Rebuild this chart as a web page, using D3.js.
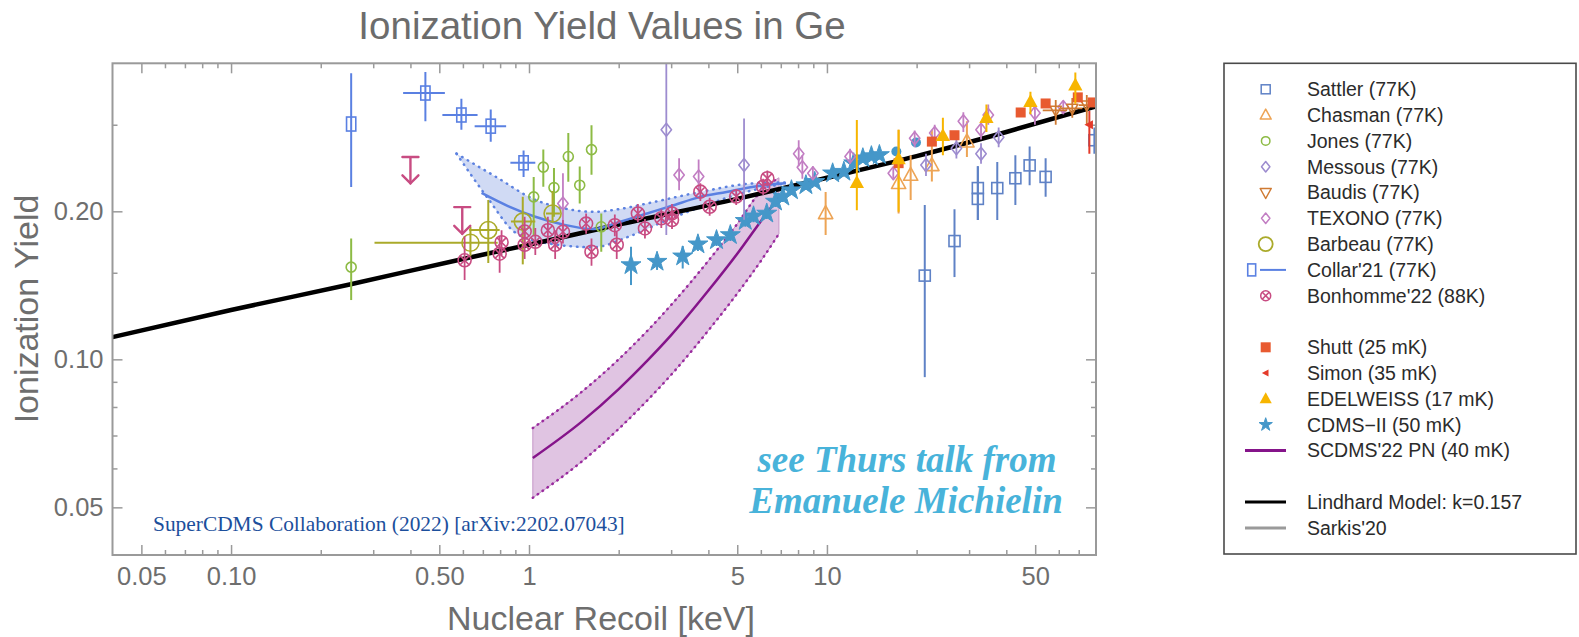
<!DOCTYPE html>
<html>
<head>
<meta charset="utf-8">
<script src="https://cdn.jsdelivr.net/npm/d3@7"></script>
<style>
  html, body { margin: 0; padding: 0; background: #ffffff; }
  svg { display: block; }
</style>
</head>
<body>
<svg id="chart" width="1579" height="637"></svg>
<script>
// ---------------- axis ticks ----------------
const xMajorTicks  = [0.05, 0.1, 0.5, 1, 5, 10, 50];
const xMajorLabels = ["0.05", "0.10", "0.50", "1", "5", "10", "50"];
const xMinorTicks  = [0.06, 0.07, 0.08, 0.09, 0.2, 0.3, 0.4, 0.6, 0.7, 0.8, 0.9,
                      2, 3, 4, 6, 7, 8, 9, 20, 30, 40, 60, 70];
const yMajorTicks  = [0.05, 0.1, 0.2];
const yMajorLabels = ["0.05", "0.10", "0.20"];
const yMinorTicks  = [0.06, 0.07, 0.08, 0.09, 0.15, 0.3];

// ---------------- measurements ----------------
// rows: [E (keV), yield, yield low, yield high, E low, E high]
const sattler = [
  [21.3, 0.148, 0.092, 0.206],
  [26.8, 0.174, 0.147, 0.202],
  [32.1, 0.223, 0.192, 0.247],
  [32.1, 0.212, 0.192, 0.247],
  [37.3, 0.223, 0.192, 0.252],
  [42.9, 0.2335, 0.206, 0.260],
  [47.9, 0.248, 0.226, 0.271],
  [54.2, 0.235, 0.214, 0.2565],
  [79.0, 0.279, 0.262, 0.296]
];
const chasman = [
  [9.9, 0.198, 0.179, 0.219],
  [17.4, 0.228, 0.198, 0.293],
  [19.1, 0.237, 0.211, 0.260],
  [22.5, 0.248, 0.230, 0.293],
  [29.5, 0.277, 0.258, 0.305]
];
const jones = [
  [0.253, 0.154, 0.132, 0.176],
  [1.037, 0.214, 0.178, 0.235],
  [1.117, 0.246, 0.2245, 0.267],
  [1.213, 0.2235, 0.195, 0.245],
  [1.355, 0.2585, 0.2296, 0.2887],
  [1.48, 0.226, 0.2075, 0.2466],
  [1.621, 0.267, 0.2374, 0.2993],
  [1.748, 0.186, 0.1655, 0.198]
];
const messous = [
  [2.89, 0.293, 0.179, 0.45],
  [5.27, 0.2484, 0.1923, 0.309],
  [21.5, 0.2484, 0.236, 0.262],
  [27.2, 0.2686, 0.256, 0.282],
  [32.9, 0.2618, 0.250, 0.275],
  [37.7, 0.2828, 0.270, 0.296]
];
const baudis = [
  [58.6, 0.321, 0.300, 0.337, 53, 64],
  [66.6, 0.324, 0.310, 0.340, 61, 72],
  [74.5, 0.329, 0.300, 0.345, 70, 79]
];
const texono = [
  [1.3, 0.2075, 0.179, 0.239],
  [3.19, 0.2371, 0.2208, 0.2565],
  [3.71, 0.2354, 0.219, 0.255],
  [8.04, 0.2618, 0.247, 0.279],
  [8.27, 0.2457, 0.233, 0.260],
  [8.97, 0.239, 0.232, 0.247],
  [11.96, 0.2585, 0.250, 0.268],
  [16.7, 0.239, 0.233, 0.246],
  [19.7, 0.2815, 0.270, 0.292],
  [23.0, 0.2885, 0.275, 0.300],
  [28.7, 0.305, 0.290, 0.318],
  [32.9, 0.293, 0.280, 0.305],
  [34.8, 0.314, 0.300, 0.330],
  [49.9, 0.317, 0.300, 0.330],
  [62.1, 0.326, 0.315, 0.335]
];
const barbeau = [
  [0.636, 0.1726, 0.162, 0.186, 0.303, 0.785],
  [0.730, 0.1832, 0.157, 0.211, 0.630, 0.797],
  [0.953, 0.1906, 0.156, 0.214, 0.870, 1.050],
  [1.200, 0.198, 0.190, 0.220, 1.140, 1.270]
];
const collar = [
  [0.253, 0.301, 0.224, 0.382, null, null],
  [0.449, 0.348, 0.305, 0.384, 0.378, 0.522],
  [0.593, 0.314, 0.293, 0.339, 0.512, 0.672],
  [0.744, 0.298, 0.277, 0.322, 0.657, 0.838],
  [0.959, 0.251, 0.235, 0.266, 0.866, 1.050]
];
// Collar'21 fitted curve and its band: [E, yield]
const collarCurve = [[0.693, 0.218], [0.85, 0.205], [1.05, 0.195], [1.3, 0.188], [1.644, 0.184],
  [2.0, 0.190], [2.49, 0.198], [3.0, 0.205], [3.76, 0.214], [4.6, 0.219], [5.68, 0.2245], [7.29, 0.228]];
const collarBandHi = [[0.571, 0.262], [0.775, 0.235], [1.05, 0.211], [1.3, 0.203], [1.644, 0.1995],
  [2.0, 0.202], [2.49, 0.2075], [3.76, 0.219], [5.68, 0.228], [7.29, 0.229]];
const collarBandLo = [[0.571, 0.262], [0.734, 0.211], [0.889, 0.182], [1.086, 0.1734], [1.644, 0.169],
  [2.16, 0.1776], [2.8, 0.190], [3.76, 0.204], [5.68, 0.221], [7.29, 0.228]];
const bonhomme = [
  [0.608, 0.159, 0.145, 0.178],
  [0.797, 0.164, 0.150, 0.178],
  [0.809, 0.173, 0.163, 0.183],
  [0.967, 0.182, 0.170, 0.195],
  [0.967, 0.171, 0.160, 0.185],
  [1.05, 0.1734, 0.163, 0.185],
  [1.157, 0.183, 0.172, 0.195],
  [1.224, 0.171, 0.160, 0.183],
  [1.3, 0.1817, 0.172, 0.192],
  [1.555, 0.1888, 0.180, 0.198],
  [1.621, 0.1655, 0.155, 0.176],
  [1.941, 0.1874, 0.178, 0.197],
  [1.97, 0.171, 0.160, 0.182],
  [2.32, 0.198, 0.190, 0.207],
  [2.45, 0.1846, 0.176, 0.193],
  [2.78, 0.1936, 0.185, 0.202],
  [3.02, 0.198, 0.190, 0.207],
  [3.02, 0.192, 0.184, 0.200],
  [3.76, 0.2193, 0.210, 0.228],
  [4.04, 0.2043, 0.196, 0.213],
  [4.96, 0.2143, 0.206, 0.222],
  [6.11, 0.2245, 0.216, 0.233],
  [6.31, 0.2335, 0.225, 0.242]
];
// upper limits: [E, limit, arrow tip]
const bonhommeLimits = [[0.40, 0.258, 0.228], [0.597, 0.204, 0.180]];
const shutt = [[17.4, 0.2506], [22.5, 0.2772], [26.8, 0.2856], [44.7, 0.3177], [54.2, 0.3314], [69.5, 0.341], [78.0, 0.333]];
const simon = [[76.0, 0.300, 0.262, 0.320]];
const edelweiss = [
  [12.6, 0.2287, 0.2011, 0.3068],
  [17.4, 0.2555, 0.1995, 0.293],
  [24.5, 0.2849, 0.260, 0.310],
  [34.3, 0.310, 0.290, 0.330],
  [48.2, 0.334, 0.315, 0.350],
  [68.2, 0.361, 0.331, 0.383]
];
const cdms = [
  [2.2, 0.1555, 0.1416, 0.1694], [2.69, 0.158, 0.152, 0.164], [3.28, 0.162, 0.153, 0.170],
  [3.69, 0.1714, 0.166, 0.177], [4.26, 0.1748, 0.170, 0.180], [4.74, 0.179, 0.174, 0.184],
  [5.32, 0.1913, 0.186, 0.197], [5.67, 0.1954, 0.190, 0.201], [6.28, 0.198, 0.193, 0.203],
  [6.72, 0.2094, 0.204, 0.215], [7.11, 0.2143, 0.209, 0.220], [7.6, 0.2208, 0.216, 0.226],
  [8.5, 0.2261, 0.221, 0.231], [9.1, 0.2296, 0.225, 0.234], [10.45, 0.239, 0.234, 0.244],
  [11.4, 0.2408, 0.236, 0.246], [12.3, 0.2506, 0.245, 0.256], [13.2, 0.2565, 0.251, 0.262],
  [14.1, 0.259, 0.254, 0.264], [15.0, 0.2604, 0.255, 0.266]
];
const cdmsCircles = [[17.1, 0.2646], [19.9, 0.2761]];
// SuperCDMS 2022 photo-neutron result
const pnE   = [1.03, 1.5, 2, 2.5, 3, 4, 5, 6, 6.9];
const pnMid = [0.063, 0.0746, 0.087, 0.0995, 0.112, 0.138, 0.164, 0.191, 0.214];
const pnLo  = [0.0523, 0.0619, 0.0722, 0.0826, 0.093, 0.1145, 0.1361, 0.1585, 0.180];
const pnHi  = [0.0725, 0.0858, 0.100, 0.1144, 0.129, 0.1587, 0.1886, 0.2197, 0.234];
// Lindhard model, k = 0.157
const lindhard = [[0.04, 0.111], [0.1, 0.126], [0.25, 0.142], [0.6, 0.160], [1, 0.171], [2, 0.188],
  [5, 0.212], [10, 0.234], [20, 0.259], [40, 0.290], [80, 0.327]];

// ---------------- legend ----------------
const legendLabels = ["Sattler (77K)", "Chasman (77K)", "Jones (77K)", "Messous (77K)", "Baudis (77K)",
  "TEXONO (77K)", "Barbeau (77K)", "Collar'21 (77K)", "Bonhomme'22 (88K)",
  "Shutt (25 mK)", "Simon (35 mK)", "EDELWEISS (17 mK)", "CDMS\u2212II (50 mK)", "SCDMS'22 PN (40 mK)",
  "Lindhard Model: k=0.157", "Sarkis'20"];
const legendRows = [0, 1, 2, 3, 4, 5, 6, 7, 8, 10, 11, 12, 13, 14, 16, 17];

// ---------------- colours ----------------
const C = {
  sattler: "#5f82c6", chasman: "#eda455", jones: "#8dbb45", messous: "#9d8ccf", baudis: "#cf7a32",
  texono: "#c27ec3", barbeau: "#aaaa2a", collar: "#5a80e2", bonhomme: "#c84c82", shutt: "#e85a30",
  simon: "#e43a2a", edelweiss: "#f7b500", cdms: "#4597c9", pn: "#85148a", lindhard: "#000000", sarkis: "#9a9a9a"
};

// ---------------- layout ----------------
const svg = d3.select("#chart");
const P = { left: 112.5, right: 1096, top: 63.3, bottom: 555 };
const x = d3.scaleLog().domain([0.04, 80]).range([P.left, P.right]);
const y = d3.scaleLog().domain([0.04, 0.4]).range([P.bottom, P.top]);
const SANS = "'Liberation Sans', Arial, Helvetica, sans-serif";
const SERIF = "'Liberation Serif', 'Times New Roman', serif";

svg.append("defs").append("clipPath").attr("id", "plotClip")
  .append("rect").attr("x", P.left).attr("y", P.top)
  .attr("width", P.right - P.left).attr("height", P.bottom - P.top);

// title
svg.append("text").attr("x", 602).attr("y", 39).attr("text-anchor", "middle")
  .style("font-family", SANS).style("font-size", "38.5px").style("fill", "#6c6c6c")
  .text("Ionization Yield Values in Ge");

// frame ticks (inward on all four sides)
function tickLayer(axis, tx, ty) {
  const g = svg.append("g").attr("transform", `translate(${tx},${ty})`).call(axis);
  g.select(".domain").remove();
  g.selectAll(".tick line").attr("stroke", "#9a9a9a").attr("stroke-width", 1.5);
  return g;
}
tickLayer(d3.axisBottom(x).tickValues(xMinorTicks).tickSize(-5).tickFormat(""), 0, P.bottom);
tickLayer(d3.axisTop(x).tickValues(xMinorTicks).tickSize(-5).tickFormat(""), 0, P.top);
tickLayer(d3.axisTop(x).tickValues(xMajorTicks).tickSize(-10).tickFormat(""), 0, P.top);
tickLayer(d3.axisLeft(y).tickValues(yMinorTicks).tickSize(-5).tickFormat(""), P.left, 0);
tickLayer(d3.axisRight(y).tickValues(yMinorTicks).tickSize(-5).tickFormat(""), P.right, 0);
tickLayer(d3.axisRight(y).tickValues(yMajorTicks).tickSize(-10).tickFormat(""), P.right, 0);

const xAx = tickLayer(d3.axisBottom(x).tickValues(xMajorTicks).tickSize(-10).tickPadding(12)
  .tickFormat((d, i) => xMajorLabels[i]), 0, P.bottom);
xAx.selectAll("text").style("font-family", SANS).style("font-size", "25.5px").style("fill", "#6e6e6e");

const yAx = tickLayer(d3.axisLeft(y).tickValues(yMajorTicks).tickSize(-10).tickPadding(9)
  .tickFormat((d, i) => yMajorLabels[i]), P.left, 0);
yAx.selectAll("text").style("font-family", SANS).style("font-size", "25.5px").style("fill", "#6e6e6e");

// axis titles
svg.append("text").attr("x", 601).attr("y", 630).attr("text-anchor", "middle")
  .style("font-family", SANS).style("font-size", "34px").style("fill", "#6e6e6e")
  .text("Nuclear Recoil [keV]");
svg.append("text").attr("transform", "translate(37.5,309) rotate(-90)").attr("text-anchor", "middle")
  .style("font-family", SANS).style("font-size", "34px").style("fill", "#6e6e6e")
  .text("Ionization Yield");

// ---------------- plot body ----------------
const body = svg.append("g").attr("clip-path", "url(#plotClip)");
const smoothGen = d3.line().x(d => x(d[0])).y(d => y(d[1])).curve(d3.curveMonotoneX);

// SCDMS'22 PN band
const pnRows = pnE.map((e, i) => ({ e, m: pnMid[i], lo: pnLo[i], hi: pnHi[i] }));
body.append("path").datum(pnRows)
  .attr("d", d3.area().x(d => x(d.e)).y0(d => y(d.lo)).y1(d => y(d.hi)).curve(d3.curveMonotoneX))
  .attr("fill", "#d6b0d8").attr("fill-opacity", 0.75).attr("stroke", "#c596c8").attr("stroke-width", 1);
[pnLo, pnHi].forEach(arr => {
  body.append("path").datum(pnE.map((e, i) => [e, arr[i]])).attr("d", smoothGen)
    .attr("fill", "none").attr("stroke", "#9a2a9e").attr("stroke-width", 2.5)
    .attr("stroke-linecap", "round").attr("stroke-dasharray", "0.5,5.5");
});
body.append("path").datum(pnE.map((e, i) => [e, pnMid[i]])).attr("d", smoothGen)
  .attr("fill", "none").attr("stroke", C.pn).attr("stroke-width", 2.5);

// Collar'21 band and curve
body.append("path").datum(collarBandHi.concat(collarBandLo.slice().reverse()))
  .attr("d", d3.line().x(d => x(d[0])).y(d => y(d[1])).curve(d3.curveCatmullRomClosed))
  .attr("fill", "#bccbf0").attr("fill-opacity", 0.7).attr("stroke", "none");
[collarBandHi, collarBandLo].forEach(arr => {
  body.append("path").datum(arr).attr("d", smoothGen)
    .attr("fill", "none").attr("stroke", "#5d82e0").attr("stroke-width", 2.5)
    .attr("stroke-linecap", "round").attr("stroke-dasharray", "0.5,6");
});

// Lindhard model
body.append("path").datum(lindhard).attr("d", smoothGen)
  .attr("fill", "none").attr("stroke", C.lindhard).attr("stroke-width", 4.5);

body.append("path").datum(collarCurve).attr("d", smoothGen)
  .attr("fill", "none").attr("stroke", C.collar).attr("stroke-width", 2.5);

// ---------------- marker helpers ----------------
function drawMarker(g, shape, cx, cy, s, color, filled, sw) {
  const fill = filled ? color : "none";
  const st = filled ? "none" : color;
  const w = sw || 1.6;
  let p;
  switch (shape) {
    case "square":
      g.append("rect").attr("x", cx - s / 2).attr("y", cy - s / 2).attr("width", s).attr("height", s)
        .attr("fill", fill).attr("stroke", st).attr("stroke-width", w);
      return;
    case "tallRect":
      g.append("rect").attr("x", cx - s * 0.33).attr("y", cy - s / 2).attr("width", s * 0.66).attr("height", s)
        .attr("fill", fill).attr("stroke", st).attr("stroke-width", w);
      return;
    case "circle":
      g.append("circle").attr("cx", cx).attr("cy", cy).attr("r", s / 2)
        .attr("fill", fill).attr("stroke", st).attr("stroke-width", w);
      return;
    case "otimes": {
      const r = s / 2, k = r * 0.68;
      g.append("circle").attr("cx", cx).attr("cy", cy).attr("r", r)
        .attr("fill", "none").attr("stroke", color).attr("stroke-width", w);
      g.append("path").attr("d", `M${cx - k},${cy - k}L${cx + k},${cy + k}M${cx - k},${cy + k}L${cx + k},${cy - k}`)
        .attr("stroke", color).attr("stroke-width", w);
      return;
    }
    case "triUp":
      p = `M${cx},${cy - s * 0.6}L${cx + s * 0.55},${cy + s * 0.4}L${cx - s * 0.55},${cy + s * 0.4}Z`; break;
    case "triDown":
      p = `M${cx},${cy + s * 0.6}L${cx + s * 0.55},${cy - s * 0.4}L${cx - s * 0.55},${cy - s * 0.4}Z`; break;
    case "triLeft":
      p = `M${cx - s * 0.55},${cy}L${cx + s * 0.4},${cy - s * 0.5}L${cx + s * 0.4},${cy + s * 0.5}Z`; break;
    case "diamond":
      p = `M${cx},${cy - s / 2}L${cx + s * 0.4},${cy}L${cx},${cy + s / 2}L${cx - s * 0.4},${cy}Z`; break;
    case "star":
      // s is roughly the star's outer diameter
      g.append("path").attr("d", d3.symbol(d3.symbolStar, s * s * 0.28)())
        .attr("transform", `translate(${cx},${cy})`).attr("fill", color)
        .attr("stroke", color).attr("stroke-width", 1).attr("stroke-linejoin", "round"); return;
  }
  g.append("path").attr("d", p).attr("fill", fill).attr("stroke", st).attr("stroke-width", w)
    .attr("stroke-linejoin", "round");
}

function drawSeries(rows, shape, size, color, filled, barColor, barWidth) {
  const g = body.append("g");
  rows.forEach(r => {
    const bc = barColor || color, bw = barWidth || 1.8;
    if (r.length > 3 && r[2] != null) {
      g.append("line").attr("x1", x(r[0])).attr("x2", x(r[0])).attr("y1", y(r[2])).attr("y2", y(r[3]))
        .attr("stroke", bc).attr("stroke-width", bw);
    }
    if (r.length > 5 && r[4] != null) {
      g.append("line").attr("x1", x(r[4])).attr("x2", x(r[5])).attr("y1", y(r[1])).attr("y2", y(r[1]))
        .attr("stroke", bc).attr("stroke-width", bw);
    }
  });
  rows.forEach(r => drawMarker(g, shape, x(r[0]), y(r[1]), size, color, filled));
}

drawSeries(cdms, "star", 21, C.cdms, true, C.cdms, 2);
drawSeries(cdmsCircles, "circle", 10, C.cdms, true);
drawSeries(sattler, "square", 11, C.sattler, false, C.sattler, 2);
drawSeries(chasman, "triUp", 13, C.chasman, false, C.chasman, 2);
drawSeries(jones, "circle", 10, C.jones, false, C.jones, 2);
drawSeries(messous, "diamond", 13, C.messous, false, C.messous, 1.8);
drawSeries(texono, "diamond", 13, C.texono, false, C.texono, 1.8);
drawSeries(baudis, "triDown", 10, C.baudis, false, C.baudis, 1.8);
drawSeries(barbeau, "circle", 17, C.barbeau, false, C.barbeau, 2);
drawSeries(bonhomme, "otimes", 13, C.bonhomme, false, C.bonhomme, 1.8);
drawSeries(collar, "tallRect", 14, C.collar, false, C.collar, 2);
drawSeries(shutt, "square", 10, C.shutt, true);
drawSeries(simon, "triLeft", 9, C.simon, true, C.simon, 2);
drawSeries(edelweiss, "triUp", 13, C.edelweiss, true, C.edelweiss, 2);

// upper-limit arrows
const lim = body.append("g").attr("stroke", C.bonhomme).attr("stroke-width", 2.4).attr("fill", "none")
  .attr("stroke-linecap", "round");
bonhommeLimits.forEach(d => {
  const cx = x(d[0]), top = y(d[1]), tip = y(d[2]);
  lim.append("path").attr("d", `M${cx - 8},${top}L${cx + 8},${top}M${cx},${top}L${cx},${tip}`);
  lim.append("path").attr("d", `M${cx - 8},${tip - 8}L${cx},${tip}L${cx + 8},${tip - 8}`);
});

// frame
svg.append("rect").attr("x", P.left).attr("y", P.top)
  .attr("width", P.right - P.left).attr("height", P.bottom - P.top)
  .attr("fill", "none").attr("stroke", "#9a9a9a").attr("stroke-width", 2);

// annotations
svg.append("text").attr("x", 153).attr("y", 531)
  .style("font-family", SERIF).style("font-size", "21.4px").style("fill", "#1c4f9c")
  .text("SuperCDMS Collaboration (2022) [arXiv:2202.07043]");
const note = svg.append("g").style("font-family", SERIF).style("font-size", "37px")
  .style("font-weight", "bold").style("font-style", "italic").style("fill", "#48b3da")
  .attr("text-anchor", "middle");
note.append("text").attr("x", 907).attr("y", 472).text("see Thurs talk from");
note.append("text").attr("x", 906).attr("y", 513).text("Emanuele Michielin");

// ---------------- legend ----------------
const L = { left: 1224, top: 63.3, right: 1576, bottom: 554, row0: 89.3, dy: 25.8, sx: 1265.7, tx: 1307 };
svg.append("rect").attr("x", L.left).attr("y", L.top).attr("width", L.right - L.left)
  .attr("height", L.bottom - L.top).attr("fill", "#ffffff").attr("stroke", "#4a4a4a").attr("stroke-width", 1.6);

const legendSymbols = [
  g => drawMarker(g, "square", L.sx, 0, 9, C.sattler, false, 1.5),
  g => drawMarker(g, "triUp", L.sx, 0, 10, C.chasman, false, 1.5),
  g => drawMarker(g, "circle", L.sx, 0, 8.5, C.jones, false, 1.5),
  g => drawMarker(g, "diamond", L.sx, 0, 10.5, C.messous, false, 1.5),
  g => drawMarker(g, "triDown", L.sx, 0, 10, C.baudis, false, 1.5),
  g => drawMarker(g, "diamond", L.sx, 0, 10.5, C.texono, false, 1.5),
  g => drawMarker(g, "circle", L.sx, 0, 14, C.barbeau, false, 1.8),
  g => { drawMarker(g, "tallRect", 1251.7, 0, 12, C.collar, false, 1.6);
         g.append("line").attr("x1", 1260).attr("x2", 1286).attr("y1", 0).attr("y2", 0)
           .attr("stroke", C.collar).attr("stroke-width", 2); },
  g => drawMarker(g, "otimes", L.sx, 0, 10, C.bonhomme, false, 1.5),
  g => drawMarker(g, "square", L.sx, 0, 10, C.shutt, true),
  g => drawMarker(g, "triLeft", L.sx, 0, 7, C.simon, true),
  g => drawMarker(g, "triUp", L.sx, 0, 11, C.edelweiss, true),
  g => drawMarker(g, "star", L.sx, 0, 14, C.cdms, true),
  g => g.append("line").attr("x1", 1245).attr("x2", 1286).attr("stroke", C.pn).attr("stroke-width", 3),
  g => g.append("line").attr("x1", 1245).attr("x2", 1286).attr("stroke", C.lindhard).attr("stroke-width", 3),
  g => g.append("line").attr("x1", 1245).attr("x2", 1286).attr("stroke", C.sarkis).attr("stroke-width", 3)
];

legendLabels.forEach((label, i) => {
  const gy = L.row0 + legendRows[i] * L.dy;
  const g = svg.append("g").attr("transform", `translate(0,${gy})`);
  legendSymbols[i](g);
  g.append("text").attr("x", L.tx).attr("y", 0).attr("dy", "0.35em")
    .style("font-family", SANS).style("font-size", "19.5px").style("fill", "#2b2b2b").text(label);
});
</script>
</body>
</html>
